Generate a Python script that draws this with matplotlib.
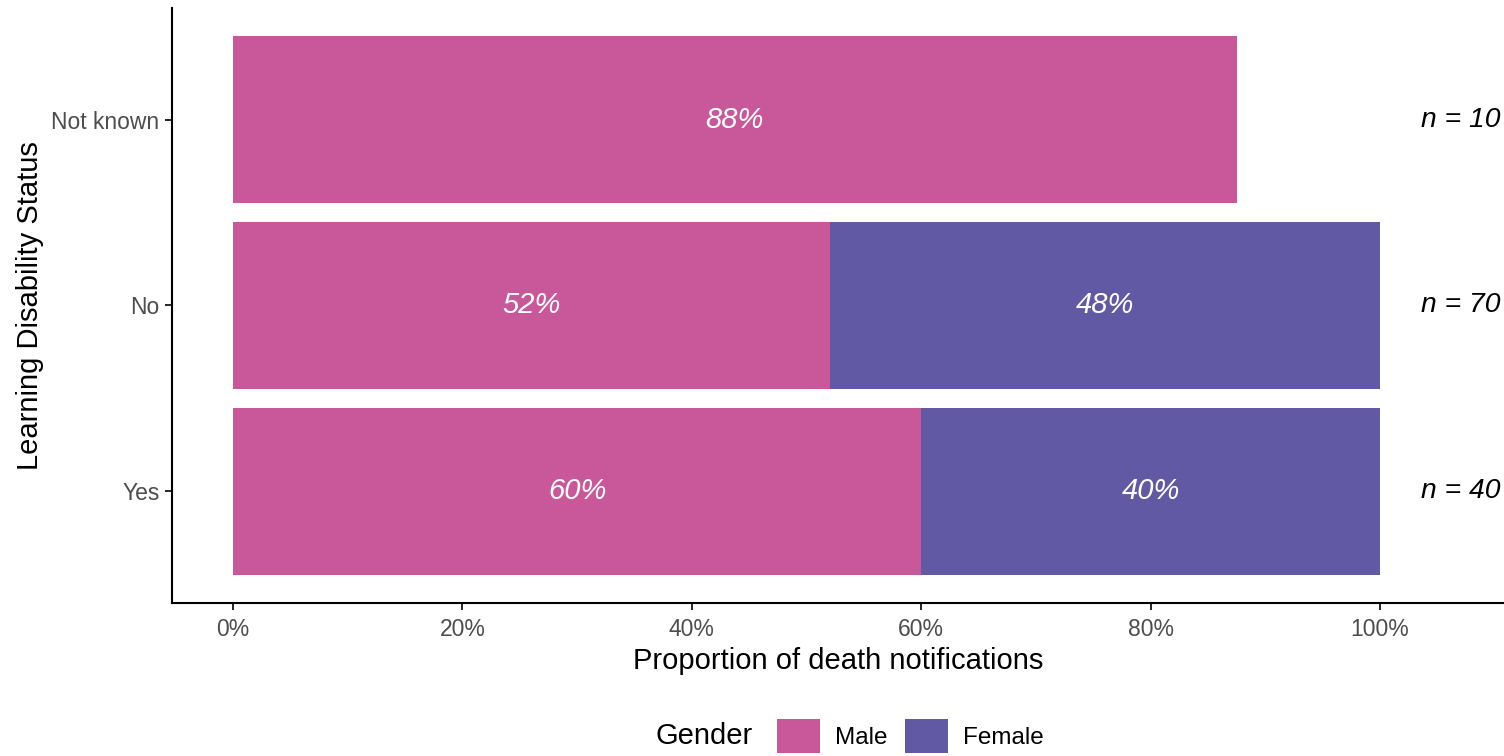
import matplotlib
matplotlib.use("Agg")
import matplotlib.pyplot as plt
import numpy as np
from matplotlib.patches import Patch
from matplotlib.offsetbox import HPacker

plt.rcParams['font.family'] = ['Liberation Sans', 'DejaVu Sans']

# Data
categories = ["Yes", "No", "Not known"]
male_pct = [60.0, 52.0, 87.5]
female_pct = [40.0, 48.0, np.nan]
male_labels = ["60%", "52%", "88%"]
female_labels = ["40%", "48%", ""]
n_labels = ["n = 40", "n = 70", "n = 10"]
x_ticks = [0, 20, 40, 60, 80, 100]
x_tick_labels = ["0%", "20%", "40%", "60%", "80%", "100%"]

male_color = "#C8589A"
female_color = "#6259A5"

fig = plt.figure(figsize=(15.04, 7.56), dpi=100)
W, H = 1504, 756
ax = fig.add_axes([172 / W, (H - 603) / H, (W - 172) / W, (603 - 8) / H])

y = np.arange(1, len(categories) + 1)
bar_h = 0.9

ax.barh(y, male_pct, height=bar_h, color=male_color, left=0)
fem = np.array(female_pct)
mask = ~np.isnan(fem)
ax.barh(y[mask], fem[mask], height=bar_h, color=female_color,
        left=np.array(male_pct)[mask])

for yi, m, f, ml, fl in zip(y, male_pct, female_pct, male_labels, female_labels):
    ax.text(m / 2, yi, ml, ha="center", va="center", color="white",
            fontsize=21, style="italic")
    if not np.isnan(f):
        ax.text(m + f / 2, yi, fl, ha="center", va="center", color="white",
                fontsize=21, style="italic")

for yi, nl in zip(y, n_labels):
    ax.text(107.0, yi, nl, ha="center", va="center", color="black",
            fontsize=20.3, style="italic")

ax.set_xlim(-5.32, 110.8)
ax.set_ylim(0.4, 3.6)
ax.set_yticks(y)
ax.set_yticklabels(categories)
ax.set_xticks(x_ticks)
ax.set_xticklabels(x_tick_labels)

for s in ["top", "right"]:
    ax.spines[s].set_visible(False)
for s in ["left", "bottom"]:
    ax.spines[s].set_linewidth(1.5)
    ax.spines[s].set_color("black")

ax.tick_params(axis="both", colors="black", labelcolor="#4D4D4D",
               labelsize=16.5, length=5, width=1.2)
ax.tick_params(axis="x", pad=6)
ax.tick_params(axis="y", pad=4)

ax.set_xlabel("Proportion of death notifications", fontsize=21, labelpad=4)
ax.set_ylabel("Learning Disability Status", fontsize=21, labelpad=5)

handles = [Patch(facecolor=male_color, edgecolor="none", label="Male"),
           Patch(facecolor=female_color, edgecolor="none", label="Female")]
leg = fig.legend(handles=handles, title="Gender", loc="center",
                 bbox_to_anchor=(850 / W, 20 / H), ncol=2, frameon=False,
                 fontsize=17.5, title_fontsize=21, handlelength=1.77,
                 handleheight=1.77, columnspacing=0.74, handletextpad=0.62,
                 borderpad=0.0)
# title sits inline, to the left of the entries
box = leg._legend_box
box.__class__ = HPacker
box.sep = 17
box.align = "center"

fig.savefig("out.png", dpi=100)
